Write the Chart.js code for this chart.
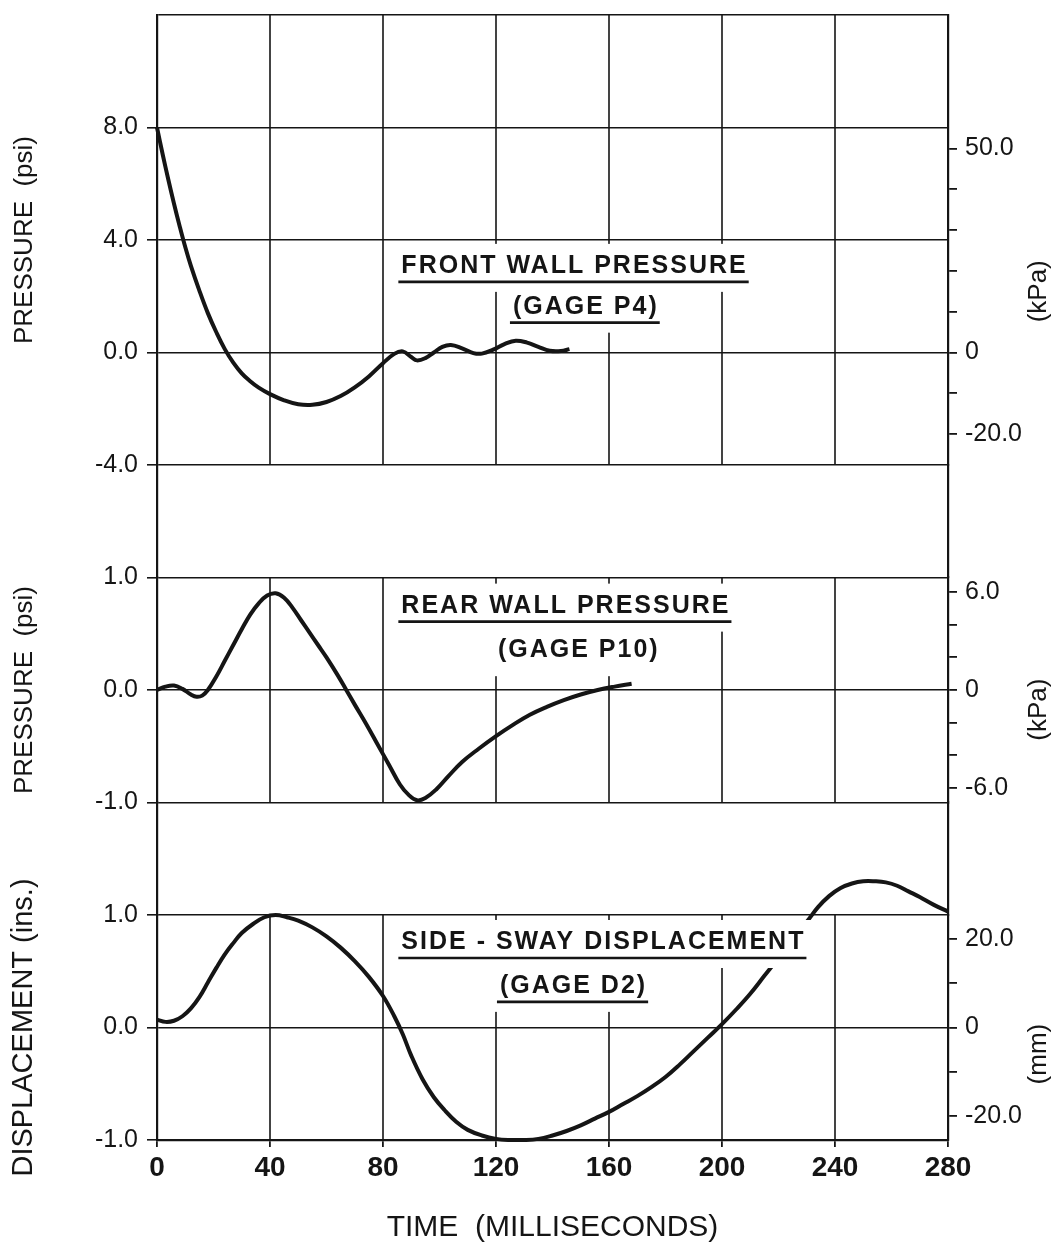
<!DOCTYPE html>
<html>
<head>
<meta charset="utf-8">
<script src="https://cdn.jsdelivr.net/npm/chart.js@4.4.1/dist/chart.umd.min.js"></script>
<style>
  html, body { margin: 0; padding: 0; background: #ffffff; }
  #wrap { position: relative; width: 1056px; height: 1254px; }
  canvas { display: block; }
</style>
</head>
<body>
<div id="wrap"><canvas id="chart" width="1056" height="1254"></canvas></div>
<script>
// ---------------- DATA ----------------
const timeTicks = [0, 40, 80, 120, 160, 200, 240, 280];

// Front wall pressure, gage P4 (psi)
const frontTime = [0, 2, 4, 6, 8, 10, 12, 15, 18, 21, 24, 27, 30, 33, 36, 40, 45, 50, 55, 60, 65, 70, 75, 80, 84, 87, 90, 92, 95, 98, 101, 104, 108, 112, 115, 119, 123, 127, 131, 135, 139, 143, 146];
const frontPsi  = [8.0, 7.05, 6.15, 5.3, 4.5, 3.75, 3.08, 2.2, 1.4, 0.72, 0.12, -0.36, -0.74, -1.02, -1.25, -1.48, -1.7, -1.84, -1.86, -1.76, -1.55, -1.24, -0.85, -0.38, -0.05, 0.04, -0.16, -0.28, -0.2, 0.0, 0.2, 0.27, 0.15, -0.02, -0.04, 0.1, 0.3, 0.42, 0.35, 0.2, 0.06, 0.05, 0.12];

// Rear wall pressure, gage P10 (psi)
const rearTime = [0, 3, 6, 9, 12, 14, 16, 18, 21, 24, 27, 30, 33, 36, 39, 42, 45, 48, 51, 54, 57, 60, 64, 67, 70, 74, 78, 82, 86, 89, 92, 95, 99, 103, 108, 114, 120, 126, 132, 138, 144, 150, 156, 162, 168];
const rearPsi  = [0.0, 0.03, 0.04, 0.01, -0.04, -0.06, -0.05, 0.0, 0.12, 0.26, 0.40, 0.54, 0.67, 0.77, 0.84, 0.86, 0.82, 0.73, 0.62, 0.51, 0.40, 0.29, 0.13, 0.0, -0.13, -0.30, -0.48, -0.66, -0.84, -0.93, -0.98, -0.96, -0.88, -0.77, -0.64, -0.52, -0.41, -0.31, -0.22, -0.15, -0.09, -0.04, 0.0, 0.03, 0.055];

// Side-sway displacement, gage D2 (in.)
const swayTime = [0, 3, 6, 9, 12, 15, 18, 21, 24, 27, 30, 34, 38, 42, 46, 50, 55, 60, 65, 70, 75, 80, 84, 87, 90, 94, 98, 102, 106, 110, 115, 120, 125, 130, 135, 140, 145, 150, 155, 160, 165, 170, 175, 180, 185, 190, 195, 200, 205, 210, 215, 220, 225, 230, 234, 238, 242, 246, 250, 254, 258, 262, 266, 270, 275, 280];
const swayIn   = [0.07, 0.05, 0.06, 0.1, 0.17, 0.27, 0.40, 0.53, 0.65, 0.75, 0.84, 0.92, 0.98, 1.0, 0.98, 0.95, 0.89, 0.81, 0.71, 0.59, 0.45, 0.28, 0.1, -0.06, -0.25, -0.46, -0.62, -0.74, -0.84, -0.91, -0.96, -0.99, -1.0, -1.0, -0.99, -0.96, -0.92, -0.87, -0.81, -0.75, -0.68, -0.61, -0.53, -0.44, -0.33, -0.21, -0.09, 0.03, 0.16, 0.30, 0.46, 0.62, 0.79, 0.94, 1.07, 1.17, 1.24, 1.28, 1.3, 1.3, 1.29, 1.26, 1.21, 1.16, 1.09, 1.03];

// Tick values
const psiTopTicks = [12, 8, 4, 0, -4];
const psiMidTicks = [1, 0, -1];
const inBotTicks  = [1, 0, -1];
const kpaTopTicks = [50, 40, 30, 20, 10, 0, -10, -20];
const kpaTopLabelled = [50, 0, -20];
const kpaMidTicks = [6, 4, 2, 0, -2, -4, -6];
const kpaMidLabelled = [6, 0, -6];
const mmBotTicks  = [20, 10, 0, -10, -20];
const mmBotLabelled = [20, 0, -20];

// Panel ranges (left units) and unit conversions for the right axes
const psiTopRange = [-4, 12];
const psiMidRange = [-1, 1];
const inBotRange  = [-1, 1];
const PSI_TO_KPA = 6.894757;
const IN_TO_MM = 25.4;

// Text
const panelLabels = [
  { text: 'FRONT WALL PRESSURE',      axis: 'yTop', t: 86.5,  v: 3.08,  underline: true },
  { text: '(GAGE P4)',                axis: 'yTop', t: 126,   v: 1.63,  underline: true },
  { text: 'REAR WALL PRESSURE',       axis: 'yMid', t: 86.5,  v: 0.75,  underline: true },
  { text: '(GAGE P10)',               axis: 'yMid', t: 120.7, v: 0.354, underline: false },
  { text: 'SIDE - SWAY DISPLACEMENT', axis: 'yBot', t: 86.5,  v: 0.76,  underline: true },
  { text: '(GAGE D2)',                axis: 'yBot', t: 121.4, v: 0.37,  underline: true }
];
const rightTitles = [
  { text: '(kPa)', axis: 'rTop', v: 15 },
  { text: '(kPa)', axis: 'rMid', v: -1.2 },
  { text: '(mm)',  axis: 'rBot', v: -6 }
];

// ---------------- STYLE ----------------
const INK = '#151515';
const FONT = '"Liberation Sans", Arial, Helvetica, sans-serif';

const toXY = (ts, vs) => ts.map((t, i) => ({ x: t, y: vs[i] }));
const setTicks = (list) => (axis) => { axis.ticks = list.map(v => ({ value: v })); };
const fmt1 = (v) => (Math.abs(v) < 1e-9 ? '0.0' : v.toFixed(1));

const leftW = (s) => { s.width = 157; s.paddingTop = 0; s.paddingBottom = 0; };
const rightW = (s) => { s.width = 108; s.paddingTop = 0; s.paddingBottom = 0; };

function leftAxis(weight, stackWeight, range, ticks, title, titleSize, titlePad, hideTop) {
  return {
    type: 'linear', position: 'left', stack: 'L', stackWeight: stackWeight, weight: weight,
    min: range[0], max: range[1], offset: false,
    afterBuildTicks: setTicks(ticks),
    afterFit: leftW,
    ticks: {
      autoSkip: false, padding: 9, color: INK,
      font: { family: FONT, size: 25 },
      callback: (v) => (hideTop !== undefined && v === hideTop ? '' : fmt1(v))
    },
    grid: {
      display: true, drawOnChartArea: true, drawTicks: true, tickLength: 10,
      color: INK, lineWidth: 1.6,
      tickColor: (c) => (c.tick && hideTop !== undefined && c.tick.value === hideTop ? 'rgba(0,0,0,0)' : INK)
    },
    border: { display: true, color: INK, width: 2.2 },
    title: {
      display: true, text: title, color: INK,
      font: { family: FONT, size: titleSize }, padding: { top: titlePad, bottom: 0 }
    }
  };
}

function gapAxis(position, stack, weight, afterFit) {
  return {
    type: 'linear', position: position, stack: stack, stackWeight: 1, weight: weight,
    min: 0, max: 1, afterFit: afterFit,
    ticks: { display: false },
    grid: { display: false },
    border: { display: true, color: INK, width: 2.2 }
  };
}

function rightAxis(weight, stackWeight, range, ticks, labelled) {
  return {
    type: 'linear', position: 'right', stack: 'R', stackWeight: stackWeight, weight: weight,
    min: range[0], max: range[1], offset: false,
    afterBuildTicks: setTicks(ticks),
    afterFit: rightW,
    ticks: {
      autoSkip: false, padding: 8, color: INK,
      font: { family: FONT, size: 25 },
      callback: (v) => (labelled.includes(v) ? (v === 0 ? '0' : v.toFixed(1)) : '')
    },
    grid: {
      display: true, drawOnChartArea: false, drawTicks: true, tickLength: 9,
      color: INK, lineWidth: 1.8
    },
    border: { display: true, color: INK, width: 2.2 }
  };
}

// ---------------- PLUGINS ----------------
const panelGrid = [
  { axis: 'yTop', from: psiTopRange[1], to: psiTopRange[0] },
  { axis: 'yMid', from: psiMidRange[1], to: psiMidRange[0] },
  { axis: 'yBot', from: inBotRange[1],  to: inBotRange[0] }
];

const verticalGridPlugin = {
  id: 'panelVerticalGrid',
  beforeDatasetsDraw(chart) {
    const ctx = chart.ctx;
    const xs = chart.scales.x;
    ctx.save();
    ctx.strokeStyle = INK;
    ctx.lineWidth = 1.6;
    panelGrid.forEach(p => {
      const ys = chart.scales[p.axis];
      const y0 = ys.getPixelForValue(p.from);
      const y1 = ys.getPixelForValue(p.to);
      timeTicks.slice(1, -1).forEach(t => {
        const x = xs.getPixelForValue(t);
        ctx.beginPath();
        ctx.moveTo(x, y0);
        ctx.lineTo(x, y1);
        ctx.stroke();
      });
    });
    ctx.restore();
  }
};

const labelPlugin = {
  id: 'panelLabels',
  afterDatasetsDraw(chart) {
    const ctx = chart.ctx;
    const xs = chart.scales.x;
    ctx.save();
    ctx.font = 'bold 25px ' + FONT;
    if ('letterSpacing' in ctx) ctx.letterSpacing = '2px';
    ctx.textBaseline = 'middle';
    ctx.textAlign = 'left';
    const items = panelLabels.map(l => {
      const x = xs.getPixelForValue(l.t);
      const y = chart.scales[l.axis].getPixelForValue(l.v);
      const w = ctx.measureText(l.text).width;
      return { l, x, y, w };
    });
    // opaque label backgrounds
    ctx.fillStyle = '#ffffff';
    items.forEach(({ x, y, w }) => {
      ctx.fillRect(x - 12, y - 22, w + 24, 48);
    });
    // text and underlines
    ctx.fillStyle = INK;
    ctx.strokeStyle = INK;
    ctx.lineWidth = 2.6;
    items.forEach(({ l, x, y, w }) => {
      ctx.fillText(l.text, x, y);
      if (l.underline) {
        ctx.beginPath();
        ctx.moveTo(x - 3, y + 16);
        ctx.lineTo(x + w + 1, y + 16);
        ctx.stroke();
      }
    });
    ctx.restore();

    // right-hand unit titles (read bottom to top)
    ctx.save();
    ctx.font = '26px ' + FONT;
    ctx.fillStyle = INK;
    ctx.textAlign = 'center';
    ctx.textBaseline = 'middle';
    rightTitles.forEach(r => {
      const sc = chart.scales[r.axis];
      const y = sc.getPixelForValue(r.v);
      const x = sc.right - 17;
      ctx.save();
      ctx.translate(x, y);
      ctx.rotate(-Math.PI / 2);
      ctx.fillText(r.text, 0, 0);
      ctx.restore();
    });
    ctx.restore();
  }
};

// ---------------- CHART ----------------
const lineStyle = {
  borderColor: INK, borderWidth: 4, pointRadius: 0, fill: false,
  tension: 0.4, clip: false
};

new Chart(document.getElementById('chart'), {
  type: 'line',
  data: {
    datasets: [
      Object.assign({ label: 'Front wall pressure (Gage P4)', data: toXY(frontTime, frontPsi), xAxisID: 'x', yAxisID: 'yTop' }, lineStyle),
      Object.assign({ label: 'Rear wall pressure (Gage P10)', data: toXY(rearTime, rearPsi), xAxisID: 'x', yAxisID: 'yMid' }, lineStyle),
      Object.assign({ label: 'Side-sway displacement (Gage D2)', data: toXY(swayTime, swayIn), xAxisID: 'x', yAxisID: 'yBot' }, lineStyle)
    ]
  },
  options: {
    responsive: false,
    devicePixelRatio: 1,
    animation: false,
    events: [],
    layout: { padding: { top: 15, left: 0, right: 0, bottom: 0 } },
    plugins: { legend: { display: false }, tooltip: { enabled: false } },
    scales: {
      x: {
        type: 'linear', position: 'bottom',
        min: timeTicks[0], max: timeTicks[timeTicks.length - 1],
        afterBuildTicks: setTicks(timeTicks),
        afterFit: (s) => { s.height = 114; },
        ticks: { autoSkip: false, padding: 4, color: INK, maxRotation: 0, font: { family: FONT, size: 28, weight: 'bold' } },
        grid: { display: true, drawOnChartArea: false, drawTicks: true, tickLength: 7, color: INK, lineWidth: 1.8 },
        border: { display: true, color: INK, width: 2.2 },
        title: { display: true, text: 'TIME  (MILLISECONDS)', color: INK, font: { family: FONT, size: 30 }, padding: { top: 0, bottom: 8 } }
      },
      // left stack (higher weight = placed higher)
      yTop: leftAxis(5, 4, psiTopRange, psiTopTicks, 'PRESSURE  (psi)', 26, 9, 12),
      gapL1: gapAxis('left', 'L', 4, leftW),
      yMid: leftAxis(3, 2, psiMidRange, psiMidTicks, 'PRESSURE  (psi)', 26, 9),
      gapL2: gapAxis('left', 'L', 2, leftW),
      yBot: leftAxis(1, 2, inBotRange, inBotTicks, 'DISPLACEMENT (ins.)', 29, 7),
      // right stack (lower weight = placed higher)
      rTop: rightAxis(1, 4, [psiTopRange[0] * PSI_TO_KPA, psiTopRange[1] * PSI_TO_KPA], kpaTopTicks, kpaTopLabelled),
      gapR1: gapAxis('right', 'R', 2, rightW),
      rMid: rightAxis(3, 2, [psiMidRange[0] * PSI_TO_KPA, psiMidRange[1] * PSI_TO_KPA], kpaMidTicks, kpaMidLabelled),
      gapR2: gapAxis('right', 'R', 4, rightW),
      rBot: rightAxis(5, 2, [inBotRange[0] * IN_TO_MM, inBotRange[1] * IN_TO_MM], mmBotTicks, mmBotLabelled)
    }
  },
  plugins: [verticalGridPlugin, labelPlugin]
});
</script>
</body>
</html>
